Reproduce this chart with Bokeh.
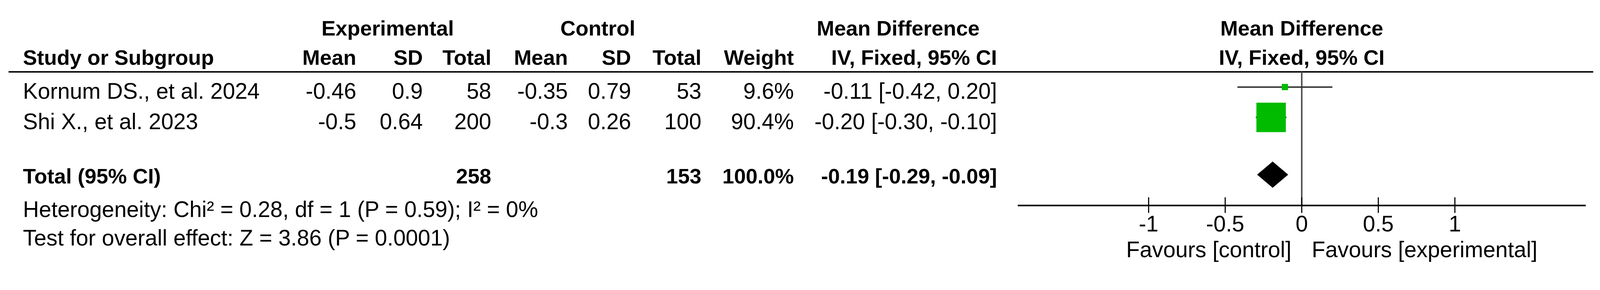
from bokeh.plotting import figure
from bokeh.models import Range1d, LinearAxis, FixedTicker, ColumnDataSource
from bokeh.core.properties import value
from bokeh.embed import file_html
from bokeh.resources import INLINE

# ---------------- data ----------------
studies = ["Kornum DS., et al. 2024", "Shi X., et al. 2023"]
exp_mean = [-0.46, -0.5]
exp_sd = [0.9, 0.64]
exp_total = [58, 200]
ctl_mean = [-0.35, -0.3]
ctl_sd = [0.79, 0.26]
ctl_total = [53, 100]
weight = [9.6, 90.4]
md = [-0.11, -0.20]
ci_low = [-0.42, -0.30]
ci_high = [0.20, -0.10]

total_label = "Total (95% CI)"
total_exp = 258
total_ctl = 153
total_weight = 100.0
total_md = -0.19
total_low = -0.29
total_high = -0.09

heterogeneity = "Heterogeneity: Chi\u00b2 = 0.28, df = 1 (P = 0.59); I\u00b2 = 0%"
overall = "Test for overall effect: Z = 3.86 (P = 0.0001)"
ticks = [-1, -0.5, 0, 0.5, 1]
tick_labels = ["-1", "-0.5", "0", "0.5", "1"]
favours_left = "Favours [control]"
favours_right = "Favours [experimental]"

# ---------------- layout ----------------
FONT = "Liberation Sans"
F = 1.056                      # picture px per page px
W, H = 4089, 687               # page px
OX, OY = 8 * F, 0.0            # data coords == picture px
ZERO_PX = 3527
UNIT_PX = 414
TEXT_DY = -22                  # baseline correction for text glyphs (picture px)


def px(v):
    return v / F


REG = f"{px(60):.1f}px"
BOLD = f"{px(57):.1f}px"

p = figure(width=W, height=H,
           x_range=Range1d(OX, OX + W * F), y_range=Range1d(OY + H * F, OY),
           output_backend="svg", toolbar_location=None,
           x_axis_type=None, y_axis_type=None, min_border=0,
           outline_line_color=None, background_fill_color="white",
           border_fill_color="white")
p.grid.visible = False
p.extra_x_ranges = {"md": Range1d((OX - ZERO_PX) / UNIT_PX, (OX + W * F - ZERO_PX) / UNIT_PX)}

HEAD1, HEAD2 = 98, 177
ROW_BASE = [268, 350]
TOTAL_BASE = 498
HET_BASE, TEST_BASE = 588, 665
FAV_BASE = 697
RULE_Y = 194
AXIS_Y = 555

LEFT = 70
COL = dict(em=971, esd=1151, en=1336, cm=1543, csd=1714, cn=1904, w=2154, ci=2703)


def txt(xs, ys, texts, align, bold=False, rng=None, x_offset=0):
    src = ColumnDataSource(dict(x=xs, y=ys, t=texts))
    kw = {"x_range_name": rng} if rng else {}
    p.text(x="x", y="y", text="t", source=src, text_align=align,
           text_baseline="alphabetic", text_font=value(FONT),
           text_font_size=value(BOLD if bold else REG),
           text_font_style="bold" if bold else "normal",
           text_color="black", x_offset=px(x_offset), y_offset=px(TEXT_DY), **kw)


# group headers
txt([1056, 1624, 2436], [HEAD1] * 3, ["Experimental", "Control", "Mean Difference"], "center", bold=True)
txt([0], [HEAD1], ["Mean Difference"], "center", bold=True, rng="md")
# column headers
txt([LEFT], [HEAD2], ["Study or Subgroup"], "left", bold=True)
txt([COL["em"], COL["esd"], COL["en"], COL["cm"], COL["csd"], COL["cn"], COL["w"], COL["ci"]],
    [HEAD2] * 8, ["Mean", "SD", "Total", "Mean", "SD", "Total", "Weight", "IV, Fixed, 95% CI"],
    "right", bold=True)
txt([0], [HEAD2], ["IV, Fixed, 95% CI"], "center", bold=True, rng="md")

# rule under header
p.segment(x0=[31], x1=[4315], y0=[RULE_Y], y1=[RULE_Y], line_color="black", line_width=px(4))

# study rows
n = len(studies)
txt([LEFT] * n, ROW_BASE, studies, "left")
for key, vals in [("em", [str(v) for v in exp_mean]), ("esd", [str(v) for v in exp_sd]),
                  ("en", [str(v) for v in exp_total]), ("cm", [str(v) for v in ctl_mean]),
                  ("csd", [str(v) for v in ctl_sd]), ("cn", [str(v) for v in ctl_total]),
                  ("w", [f"{v:.1f}%" for v in weight]),
                  ("ci", [f"{m:.2f} [{l:.2f}, {h:.2f}]" for m, l, h in zip(md, ci_low, ci_high)])]:
    txt([COL[key]] * n, ROW_BASE, vals, "right")

# total row
txt([LEFT], [TOTAL_BASE], [total_label], "left", bold=True)
txt([COL["en"], COL["cn"], COL["w"], COL["ci"]], [TOTAL_BASE] * 4,
    [str(total_exp), str(total_ctl), f"{total_weight:.1f}%",
     f"{total_md:.2f} [{total_low:.2f}, {total_high:.2f}]"], "right", bold=True)

txt([LEFT], [HET_BASE], [heterogeneity], "left")
txt([LEFT], [TEST_BASE], [overall], "left")

# ---------------- forest ----------------
row_y = [b - 33 for b in ROW_BASE]
total_y = TOTAL_BASE - 26

p.segment(x0=[0], x1=[0], y0=[RULE_Y], y1=[AXIS_Y], x_range_name="md",
          line_color="#4a4a4a", line_width=px(4))

fsrc = ColumnDataSource(dict(md=md, lo=ci_low, hi=ci_high, y=row_y,
                             size=[px(3.56 * w ** 0.69) for w in weight]))
p.segment(x0="lo", x1="hi", y0="y", y1="y", source=fsrc, x_range_name="md",
          line_color="#333333", line_width=px(4))
p.scatter(x="md", y="y", size="size", marker="square", source=fsrc, x_range_name="md",
          fill_color="#00BB00", line_color=None)

DH = 35
p.patch(x=[total_low, total_md, total_high, total_md],
        y=[total_y, total_y - DH, total_y, total_y + DH],
        x_range_name="md", fill_color="black", line_color="black", line_width=1)

axis = LinearAxis(x_range_name="md", ticker=FixedTicker(ticks=ticks),
                  bounds=(-1.855, 1.855), fixed_location=AXIS_Y)
axis.major_label_overrides = {t: l for t, l in zip(ticks, tick_labels)}
axis.axis_line_width = px(4)
axis.axis_line_color = "black"
axis.major_tick_line_width = px(3)
axis.major_tick_line_color = "black"
axis.major_tick_in = round(px(22))
axis.major_tick_out = round(px(20))
axis.minor_tick_line_color = None
axis.major_label_text_font = FONT
axis.major_label_text_font_size = REG
axis.major_label_text_color = "black"
axis.major_label_standoff = round(px(8))
p.add_layout(axis, "below")

txt([0], [FAV_BASE], [favours_left], "right", rng="md", x_offset=-28)
txt([0], [FAV_BASE], [favours_right], "left", rng="md", x_offset=27)

open("out.html", "w").write(file_html(p, INLINE))
